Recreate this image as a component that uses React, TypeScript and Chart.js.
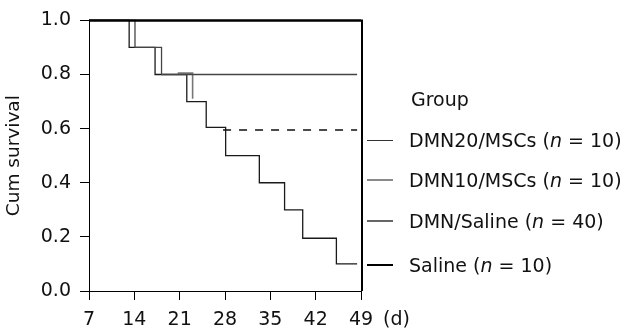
import React, { useEffect, useRef } from "react";
import { Chart, registerables } from "chart.js";

Chart.register(...registerables);

// ---- Data ----
const xTickValues = [7, 14, 21, 28, 35, 42, 49];
const yTickValues = [0, 0.2, 0.4, 0.6, 0.8, 1.0];

// DMN/Saline (n = 40): long staircase
const dmnSalineDays = [7, 13.2, 17.2, 22.1, 25.1, 28.1, 33.3, 37.2, 40.0, 45.2, 48.4];
const dmnSalineSurv = [1.0, 0.9, 0.8, 0.7, 0.605, 0.5, 0.4, 0.3, 0.195, 0.1, 0.1];

// DMN20/MSCs (n = 10): plateau at 0.8
const dmn20Days = [7, 14.1, 18.2, 48.4];
const dmn20Surv = [1.0, 0.9, 0.8, 0.8];

// DMN10/MSCs (n = 10): visible fragment and censored plateau
const dmn10Days = [20.7, 23.0];
const dmn10Surv = [0.805, 0.71];
const dmn10CensDays = [27.7, 48.4];
const dmn10CensSurv = [0.595, 0.595];

// Saline (n = 10): all survive
const salineDays = [7, 49];
const salineSurv = [1.0, 1.0];

const groupNames = ["DMN20/MSCs", "DMN10/MSCs", "DMN/Saline", "Saline"];
const groupN = [10, 10, 40, 10];
const groupColors = ["#333333", "#8a8a8a", "#666666", "#000000"];
const groupWidths = [1, 2, 2, 2.5];

const FONT = '"DejaVu Sans", Verdana, sans-serif';
const TICK_PAD = 9;
const TICK_LEN = 9;

const toPoints = (xs: number[], ys: number[]) => xs.map((x, i) => ({ x, y: ys[i] }));

const framePlugin = {
  id: "frameAndUnit",
  afterDraw(chart: any) {
    const { ctx, chartArea, scales } = chart;
    const xs = scales.x;
    ctx.save();
    ctx.strokeStyle = "#000";
    ctx.lineWidth = 2;
    ctx.beginPath();
    ctx.moveTo(chartArea.left, chartArea.top);
    ctx.lineTo(chartArea.right + 1, chartArea.top);
    ctx.lineTo(chartArea.right + 1, chartArea.bottom);
    ctx.stroke();
    ctx.font = `19px ${FONT}`;
    ctx.fillStyle = "#111";
    ctx.textAlign = "left";
    ctx.textBaseline = "middle";
    const y = xs.top + TICK_LEN + TICK_PAD + (19 * 1.2) / 2;
    ctx.fillText("(d)", chartArea.right + 22, y);
    ctx.restore();
  },
};

export default function App() {
  const ref = useRef<HTMLCanvasElement | null>(null);

  useEffect(() => {
    if (!ref.current) return;
    const common = { pointRadius: 0, fill: false, stepped: true as any, clip: 6, tension: 0 };
    const chart = new Chart(ref.current, {
      type: "line",
      data: {
        datasets: [
          {
            label: "Saline",
            data: toPoints(salineDays, salineSurv),
            borderColor: "#000",
            borderWidth: 2,
            ...common,
          },
          {
            label: "DMN20/MSCs",
            data: toPoints(dmn20Days, dmn20Surv),
            borderColor: "#444",
            borderWidth: 1.3,
            ...common,
          },
          {
            label: "DMN10/MSCs",
            data: toPoints(dmn10Days, dmn10Surv),
            borderColor: "#777",
            borderWidth: 1.6,
            ...common,
          },
          {
            label: "DMN10/MSCs censored",
            data: toPoints(dmn10CensDays, dmn10CensSurv),
            borderColor: "#111",
            borderWidth: 1.3,
            borderDash: [8, 8],
            ...common,
          },
          {
            label: "DMN/Saline",
            data: toPoints(dmnSalineDays, dmnSalineSurv),
            borderColor: "#1a1a1a",
            borderWidth: 1.3,
            ...common,
          },
        ],
      },
      options: {
        animation: false,
        responsive: false,
        devicePixelRatio: 1,
        parsing: false as any,
        layout: { padding: { left: 0, right: 262, top: 20, bottom: 0 } },
        plugins: { legend: { display: false }, tooltip: { enabled: false } },
        scales: {
          x: {
            type: "linear",
            min: 7,
            max: 49,
            afterBuildTicks: (s: any) => {
              s.ticks = xTickValues.map((v) => ({ value: v }));
            },
            afterFit: (s: any) => {
              s.height = 42;
            },
            grid: {
              drawOnChartArea: false,
              drawTicks: true,
              tickLength: TICK_LEN,
              color: "#000",
              tickColor: "#000",
              lineWidth: 1,
            },
            border: { color: "#000", width: 1 },
            ticks: {
              color: "#111",
              font: { family: FONT, size: 19 },
              padding: TICK_PAD,
              maxRotation: 0,
              autoSkip: false,
              callback: (v: any) => String(v),
            },
          },
          y: {
            type: "linear",
            min: 0,
            max: 1,
            afterBuildTicks: (s: any) => {
              s.ticks = yTickValues.map((v) => ({ value: v }));
            },
            afterFit: (s: any) => {
              s.width = 89;
            },
            grid: {
              drawOnChartArea: false,
              drawTicks: true,
              tickLength: TICK_LEN,
              color: "#000",
              tickColor: "#000",
              lineWidth: 1,
            },
            border: { color: "#000", width: 1 },
            ticks: {
              color: "#111",
              font: { family: FONT, size: 19 },
              padding: TICK_PAD,
              autoSkip: false,
              callback: (v: any) => Number(v).toFixed(1),
            },
            title: {
              display: true,
              text: "Cum survival",
              color: "#111",
              font: { family: FONT, size: 18.5 },
              padding: { top: 3, bottom: 0 },
            },
          },
        },
      },
      plugins: [framePlugin],
    });
    return () => chart.destroy();
  }, []);

  const rowCenters = [140, 180, 221, 265];

  return (
    <div style={{ position: "absolute", left: 0, top: 0, width: 623, height: 333, background: "#fff" }}>
      <canvas ref={ref} width={623} height={333} style={{ display: "block", width: 623, height: 333 }} />
      <div
        style={{
          position: "absolute",
          left: 411,
          top: 99 - 11,
          height: 22,
          lineHeight: "22px",
          font: `19px ${FONT}`,
          color: "#111",
          whiteSpace: "nowrap",
        }}
      >
        Group
      </div>
      {groupNames.map((name, i) => (
        <React.Fragment key={name}>
          <div
            style={{
              position: "absolute",
              left: 367,
              width: 26,
              top: rowCenters[i] - groupWidths[i] / 2,
              height: groupWidths[i],
              background: groupColors[i],
            }}
          />
          <div
            style={{
              position: "absolute",
              left: 409,
              top: rowCenters[i] - 11,
              height: 22,
              lineHeight: "22px",
              font: `19px ${FONT}`,
              color: "#111",
              whiteSpace: "nowrap",
            }}
          >
            {name} (<i>n</i> = {groupN[i]})
          </div>
        </React.Fragment>
      ))}
    </div>
  );
}
